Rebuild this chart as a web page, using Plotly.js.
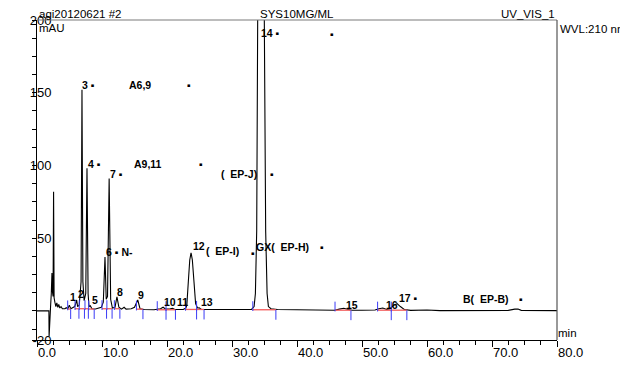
<!DOCTYPE html>
<html><head><meta charset="utf-8">
<script src="https://cdn.plot.ly/plotly-3.0.1.min.js"></script>
<style>html,body{margin:0;padding:0;background:#fff}#chart{width:620px;height:392px}</style>
</head><body><div id="chart"></div>
<script>
// chromatogram (time in min, signal in mAU)
const timeMin = [0,1.83,1.86,1.95,2.1,2.2,2.3,2.38,2.47,2.55,2.63,2.75,2.9,3.05,3.2,3.35,3.5,3.7,3.9,4.3,4.5,4.75,4.97,5.2,5.5,5.8,5.95,6.1,6.25,6.5,6.78,6.92,7.06,7.25,7.5,7.69,7.86,8.0,8.2,8.45,9.0,9.5,9.9,10.2,10.46,10.65,10.85,11.1,11.33,11.6,12.0,12.3,12.6,13.0,13.4,13.7,14.5,15.0,15.5,15.85,16.5,18.0,19.0,19.4,19.8,20.5,20.85,21.2,22.5,22.9,23.05,23.28,23.5,23.7,23.9,24.15,24.4,24.7,24.95,25.3,28.0,30.0,33.0,33.4,33.6,33.8,33.95,34.46,34.97,35.18,35.4,35.6,36.0,37.0,40.0,44.0,45.8,46.5,47.2,47.9,48.5,50.0,52.0,52.6,53.2,53.8,54.3,54.9,55.4,55.9,56.5,57.5,60.0,62.0,65.0,68.0,70.0,72.5,73.5,74.0,74.5,77.0,80.0];
const signalMAU = [0,0,-17.5,-12,4,12,26,13,10,82,9,6,3,5.5,2.5,4.5,2,3,1.5,1.5,2.2,1.5,4,1.5,2,3,5,7.5,3,4,20,152,20,7,12,98,12,3,3.5,1.5,1.3,1.8,2.5,6,37,8,10,91,8,2,2.5,9.6,2.5,1.2,2.5,1.2,1.5,2.5,7.5,1.5,1,0.8,1.5,2.5,1.2,1.5,1.8,1,1,2,4,20,35,40,35,20,5,2,2.2,1,0.8,1,1,3,12,55,200,700,200,55,12,3,1.5,1,0.8,0.6,0.5,1.2,1.8,1,0.5,0.5,0.6,1.5,2,1,1.5,4,5,3,1,0.4,0.6,0.2,0.4,0.2,0.5,0.4,1.2,1.3,0.4,0.3,0.2];

// integration limits (min) and baseline level (mAU)
const intStart = [4.72,5.85,6.5,7.38,7.95,10.0,10.75,11.9,15.3,18.5,19.85,22.85,24.55,33.2,45.85,52.4,54.5];
const intEnd   = [5.18,6.45,7.3,7.9,8.8,10.7,11.55,12.75,16.3,19.85,21.3,24.55,25.7,36.75,48.3,54.5,56.9];
const intLevel = [1.3,1.5,1.5,1.5,1.3,1.5,1.5,1.5,1.2,0.8,0.8,1.0,1.0,0.8,0.5,0.5,0.5];

// peak labels
const labelText = ["1","2","3 ▪","A6,9","▪","4 ▪","A9,11","▪","7 ▪","(\u00a0\u00a0EP-J)","▪","6 ▪ N‑","12","(\u00a0\u00a0EP-I)","▪","GX(\u00a0\u00a0EP-H)","▪","5","8","9","10","11","13","14 ▪","▪","15","16","17 ▪","B(\u00a0\u00a0EP-B)","▪"];
const labelTime = [4.92,6.15,6.77,14.0,22.9,7.69,14.77,24.7,11.08,28.15,35.7,10.46,23.85,25.85,32.77,33.54,43.4,8.3,12.15,15.4,19.4,21.4,25.1,34.3,44.9,47.4,53.5,55.5,65.4,73.95];
const labelValue = [9.6,11.6,155.3,155.3,155.3,101,101,101,94.2,94.2,94.2,40.5,44.6,41.2,39.9,44,44,7.6,13,11,6.2,6.2,6.2,191,190.4,4.1,4.1,8.9,8.3,8.3];

// y tick labels
const yTickVals = [-20,0,50,100,150,200];
const yTickText = ["-20","","50","100","150","200"];

const redX = [], redY = [];
intStart.forEach((s,i)=>{redX.push(s,intEnd[i],null);redY.push(intLevel[i],intLevel[i],null);});

const traces = [
  {x: timeMin, y: signalMAU, type:'scatter', mode:'lines', line:{color:'#000',width:1.1}, hoverinfo:'skip'},
  {x: redX, y: redY, type:'scatter', mode:'lines', line:{color:'#f25a5a',width:1.3}, hoverinfo:'skip'},
  {x: intStart, y: intLevel.map(v=>v+2.5), type:'scatter', mode:'markers', cliponaxis:true,
   marker:{symbol:'line-ns', size:7, line:{color:'#3b3bf5', width:1}}, hoverinfo:'skip'},
  {x: intEnd, y: intLevel.map(v=>v-3.5), type:'scatter', mode:'markers', cliponaxis:true,
   marker:{symbol:'line-ns', size:7, line:{color:'#3b3bf5', width:1}}, hoverinfo:'skip'}
];

const F = '"Liberation Sans", Arial, sans-serif';
const annotations = labelText.map((t,i)=>({
  x: labelTime[i], y: labelValue[i], xref:'x', yref:'y', text:'<b>'+t+'</b>', showarrow:false,
  xanchor:'left', yanchor:'middle', borderpad:0, font:{family:F, size:10.5, color:'#000'}
}));
const hdr = (text,x,y,xa)=>({text, x, y, xref:'paper', yref:'paper', showarrow:false, xanchor:xa, yanchor:'middle', borderpad:0, font:{family:F,size:11.5,color:'#000'}});
annotations.push(hdr('agi20120621 #2', 0.0015, 1.019, 'left'));
annotations.push(hdr('SYS10MG/ML', 0.5, 1.019, 'center'));
annotations.push(hdr('UV_VIS_1', 0.999, 1.019, 'right'));
annotations.push(hdr('mAU', 0.002, 0.975, 'left'));
annotations.push(hdr('WVL:210 nm', 1.004, 0.972, 'left'));
annotations.push(hdr('min', 1.0, 0.022, 'left'));

const layout = {
  width:620, height:392, margin:{l:37,r:63,t:20,b:52},
  paper_bgcolor:'#fff', plot_bgcolor:'#fff', showlegend:false,
  xaxis:{range:[0,80], tick0:0, dtick:10, tickformat:'.1f', showgrid:false, zeroline:false,
    showline:true, linecolor:'#000', linewidth:1, ticks:'outside', ticklen:6, tickcolor:'#000',
    ticklabelposition:'outside right',
    minor:{ticks:'outside', tickmode:'linear', tick0:0, dtick:2.5, ticklen:4, tickcolor:'#000'},
    tickfont:{family:F, size:13, color:'#000'}},
  yaxis:{range:[-20,200], tickmode:'array', tickvals:yTickVals, ticktext:yTickText, showgrid:false, zeroline:false,
    showline:true, linecolor:'#000', linewidth:1, ticks:'outside', ticklen:4, tickcolor:'#000',
    ticklabelstandoff:-22,
    minor:{ticks:'outside', tickmode:'linear', tick0:0, dtick:12.5, ticklen:4, tickcolor:'#000'},
    tickfont:{family:F, size:13, color:'#000'}},
  shapes:[
    {type:'line', xref:'paper', yref:'paper', x0:0, x1:1, y0:1, y1:1, line:{color:'#7a7a7a', width:1.2}},
    {type:'line', xref:'paper', yref:'paper', x0:1, x1:1, y0:0, y1:1, line:{color:'#555', width:1.2}}
  ],
  annotations
};
Plotly.newPlot('chart', traces, layout, {staticPlot:true, displayModeBar:false});
</script></body></html>
